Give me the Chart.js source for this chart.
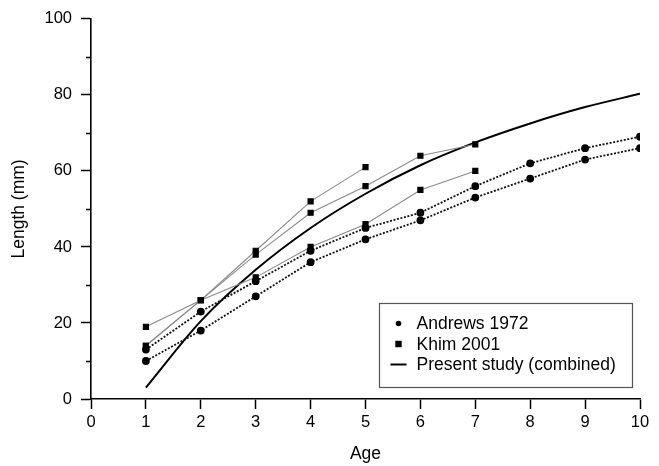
<!DOCTYPE html>
<html>
<head>
<meta charset="utf-8">
<script src="https://cdn.jsdelivr.net/npm/chart.js@4.4.1/dist/chart.umd.min.js"></script>
<style>
  html, body { margin: 0; padding: 0; background: #fff; }
  #wrap { width: 659px; height: 466px; position: relative; }
</style>
</head>
<body>
<div id="wrap"><canvas id="growthChart"></canvas></div>
<script>
// ages (x)
var ages = [1, 2, 3, 4, 5, 6, 7, 8, 9, 10];

// Andrews 1972 (two growth series, circles)
var andrewsLow = [10, 18, 27, 36, 42, 47, 53, 58, 63, 66];
var andrewsHigh = [13, 23, 31, 39, 45, 49, 56, 62, 66, 69];

// Khim 2001 (three growth series, squares)
var khimA = [19, 26, 39, 52, 61];
var khimB = [14, 26, 38, 49, 56, 64, 67];
var khimC = [14, 26, 32, 40, 46, 55, 60];

// Present study (combined) curve
var presentStudy = [3, 20.5, 34, 45, 54, 61.5, 67.5, 72.5, 76.8, 80.3];

var yMajorTicks = [0, 20, 40, 60, 80, 100];
var yMinorTicks = [10, 30, 50, 70, 90];
var xTicks = [0, 1, 2, 3, 4, 5, 6, 7, 8, 9, 10];

var legendItems = ["Andrews 1972", "Khim 2001", "Present study (combined)"];

var FONT = "'Liberation Sans', Arial, sans-serif";

function toPoints(values) {
    var pts = [];
    for (var i = 0; i < values.length; i++) {
        pts.push({ x: ages[i], y: values[i] });
    }
    return pts;
}

function andrewsSet(values) {
    return {
        label: "Andrews 1972",
        data: toPoints(values),
        borderColor: "#111",
        borderWidth: 1.8,
        borderDash: [2, 1.6],
        pointStyle: "circle",
        pointRadius: 3,
        pointBackgroundColor: "#000",
        pointBorderColor: "#000",
        tension: 0,
    };
}

function khimSet(values) {
    return {
        label: "Khim 2001",
        data: toPoints(values),
        borderColor: "#8a8a8a",
        borderWidth: 1.1,
        pointStyle: "rect",
        pointRadius: 3.6,
        pointBackgroundColor: "#000",
        pointBorderColor: "#000",
        tension: 0,
    };
}

// minor ticks on the y axis and the boxed legend
var extrasPlugin = {
    id: "extras",
    afterDraw: function (chart) {
        var ctx = chart.ctx;
        var yScale = chart.scales.y;
        var xScale = chart.scales.x;
        var left = chart.chartArea.left;
        ctx.save();
        ctx.strokeStyle = "#000";
        ctx.lineWidth = 1.5;
        for (var i = 0; i < yMinorTicks.length; i++) {
            var py = Math.round(yScale.getPixelForValue(yMinorTicks[i])) + 0.5;
            ctx.beginPath();
            ctx.moveTo(left - 5, py);
            ctx.lineTo(left, py);
            ctx.stroke();
        }

        // legend box, anchored in data space
        var bx = Math.round(xScale.getPixelForValue(5.24)) + 0.5;
        var by = Math.round(yScale.getPixelForValue(25.3)) + 0.5;
        var bx2 = Math.round(xScale.getPixelForValue(9.85)) + 0.5;
        var by2 = Math.round(yScale.getPixelForValue(3.2)) + 0.5;
        ctx.fillStyle = "#fff";
        ctx.fillRect(bx, by, bx2 - bx, by2 - by);
        ctx.strokeStyle = "#555";
        ctx.lineWidth = 1.2;
        ctx.strokeRect(bx, by, bx2 - bx, by2 - by);

        ctx.font = "17.5px " + FONT;
        ctx.textBaseline = "middle";
        var rowH = 20.5;
        for (var j = 0; j < legendItems.length; j++) {
            var cy = by + 20 + j * rowH;
            var mx = bx + 19;
            ctx.fillStyle = "#000";
            if (j === 0) {
                ctx.beginPath();
                ctx.arc(mx, cy, 2.8, 0, Math.PI * 2);
                ctx.fill();
            } else if (j === 1) {
                ctx.fillRect(mx - 3.2, cy - 3.2, 6.4, 6.4);
            } else {
                ctx.strokeStyle = "#000";
                ctx.lineWidth = 2;
                ctx.beginPath();
                ctx.moveTo(mx - 8, cy);
                ctx.lineTo(mx + 8, cy);
                ctx.stroke();
            }
            ctx.fillText(legendItems[j], bx + 37, cy + 1);
        }
        ctx.restore();
    },
};

var config = {
    type: "line",
    data: {
        datasets: [
            andrewsSet(andrewsLow),
            andrewsSet(andrewsHigh),
            khimSet(khimA),
            khimSet(khimB),
            khimSet(khimC),
            {
                label: "Present study (combined)",
                data: toPoints(presentStudy),
                borderColor: "#000",
                borderWidth: 2,
                pointRadius: 0,
                cubicInterpolationMode: "monotone",
            },
        ],
    },
    options: {
        responsive: true,
        maintainAspectRatio: false,
        animation: false,
        layout: { padding: { top: 10, right: 19, left: 0, bottom: 0 } },
        plugins: {
            legend: { display: false },
            tooltip: { enabled: false },
        },
        scales: {
            x: {
                type: "linear",
                min: 0,
                max: 10,
                afterBuildTicks: function (scale) {
                    scale.ticks = xTicks.map(function (v) { return { value: v }; });
                },
                border: { color: "#000", width: 1.6 },
                grid: { drawOnChartArea: false, drawTicks: true, tickLength: 10, tickColor: "#000", tickWidth: 1.5 },
                ticks: { color: "#000", font: { family: FONT, size: 16.5 }, padding: 4, maxRotation: 0 },
                title: { display: true, text: "Age", color: "#000", font: { family: FONT, size: 17.5 }, padding: { top: 4, bottom: 1 } },
                afterFit: function (scale) { scale.height = 67; },
            },
            y: {
                type: "linear",
                min: 0,
                max: 100,
                afterBuildTicks: function (scale) {
                    scale.ticks = yMajorTicks.map(function (v) { return { value: v }; });
                },
                border: { color: "#000", width: 1.6 },
                grid: { drawOnChartArea: false, drawTicks: true, tickLength: 10, tickColor: "#000", tickWidth: 1.5 },
                ticks: { color: "#000", font: { family: FONT, size: 16.5 }, padding: 9 },
                title: { display: true, text: "Length (mm)", color: "#000", font: { family: FONT, size: 17.5 }, padding: { top: 9, bottom: 4 } },
                afterFit: function (scale) { scale.width = 91; },
            },
        },
    },
    plugins: [extrasPlugin],
};

var growthChart = new Chart("growthChart", config);
</script>
</body>
</html>
